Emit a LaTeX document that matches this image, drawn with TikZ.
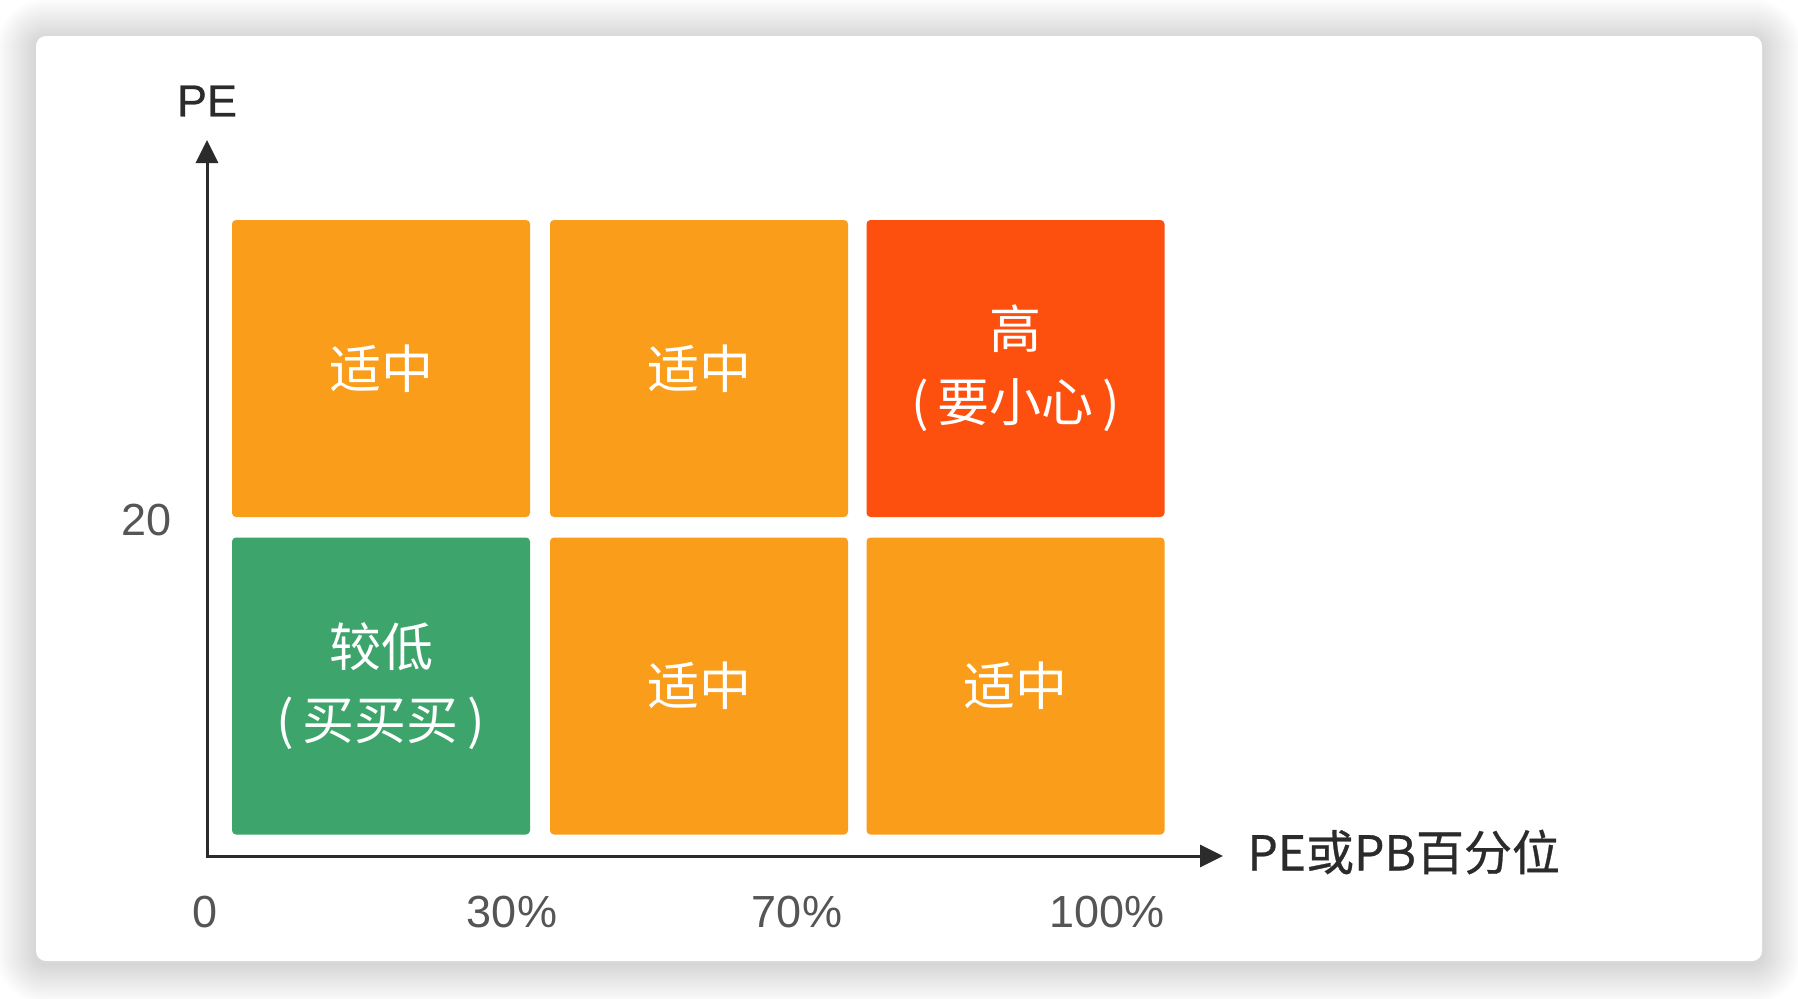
\documentclass[tikz,border=0pt]{standalone}
\usepackage{fontspec}
\setmainfont{Noto Sans CJK SC}
\newfontfamily\latinfont{Liberation Sans}
\newfontfamily\titlefont[FakeBold=0.6]{Noto Sans CJK SC}
\newfontfamily\titlelatin[FakeBold=0.6]{Liberation Sans}
\usepackage{tikz}
\usetikzlibrary{arrows.meta, positioning}

\definecolor{cellorange}{HTML}{F99D1A}
\definecolor{cellred}{HTML}{FD4F0D}
\definecolor{cellgreen}{HTML}{3DA46B}
\definecolor{axisgray}{HTML}{2B2B2B}
\definecolor{ticklabel}{HTML}{555555}

\begin{document}
\begin{tikzpicture}[
    x=0.5pt, y=-0.5pt,
    cell/.style={
        rectangle, rounded corners=2pt,
        minimum width=149pt, minimum height=148.5pt,
        text=white, font=\fontsize{26}{36.5}\selectfont,
        align=center, inner sep=0pt
    },
    axis/.style={-{Triangle[length=11.5pt, width=11pt]}, line width=1.5pt, draw=axisgray},
    tick/.style={font=\latinfont\fontsize{22.5}{27}\selectfont, text=ticklabel, inner sep=0pt},
]

\useasboundingbox (0,0) rectangle (1798,998);

% Schatten
\foreach \d in {2,4,...,40}
    \fill[black, opacity=0.009, rounded corners=5pt+\d*0.5pt]
        (36-\d, 39-\d) rectangle (1762+\d, 964+\d);

% Karte
\fill[white, rounded corners=5pt] (36,36) rectangle (1762,961);

% Zellen
\node[cell, fill=cellorange] (topleft)  at (381, 368.5)    {适中};
\node[cell, fill=cellorange] (topmid)   at (699, 368.5)    {适中};
\node[cell, fill=cellred]    (topright) at (1015.5, 368.5) {高\\(\,要小心\,)};
\node[cell, fill=cellgreen]  (botleft)  at (381, 686)      {较低\\(\,买买买\,)};
\node[cell, fill=cellorange] (botmid)   at (699, 686)      {适中};
\node[cell, fill=cellorange] (botright) at (1015.5, 686)   {适中};

% Achsen
\coordinate (origin) at (207, 856);
\coordinate (ytip)   at (207, 140);
\coordinate (xtip)   at (1223, 856);
\draw[axis] ([yshift=-0.75pt]origin) -- (ytip);
\draw[axis] ([xshift=-0.75pt]origin) -- (xtip);

% Beschriftungen
\node[font=\titlelatin\fontsize{22.5}{27}\selectfont, text=axisgray] (ylabel) at (207, 101) {PE};
\node[font=\titlefont\fontsize{24}{28}\selectfont, text=axisgray, anchor=west, inner sep=0pt]
    (xlabel) at (1247, 852) {PE或PB百分位};
\node[tick] (tick20)  at (147, 520)  {20};
\node[tick] (tick0)   at (205, 912)  {0};
\node[tick] (tick30)  at (512, 912)  {30\%};
\node[tick] (tick70)  at (797, 912)  {70\%};
\node[tick] (tick100) at (1107, 912) {100\%};

\end{tikzpicture}
\end{document}
